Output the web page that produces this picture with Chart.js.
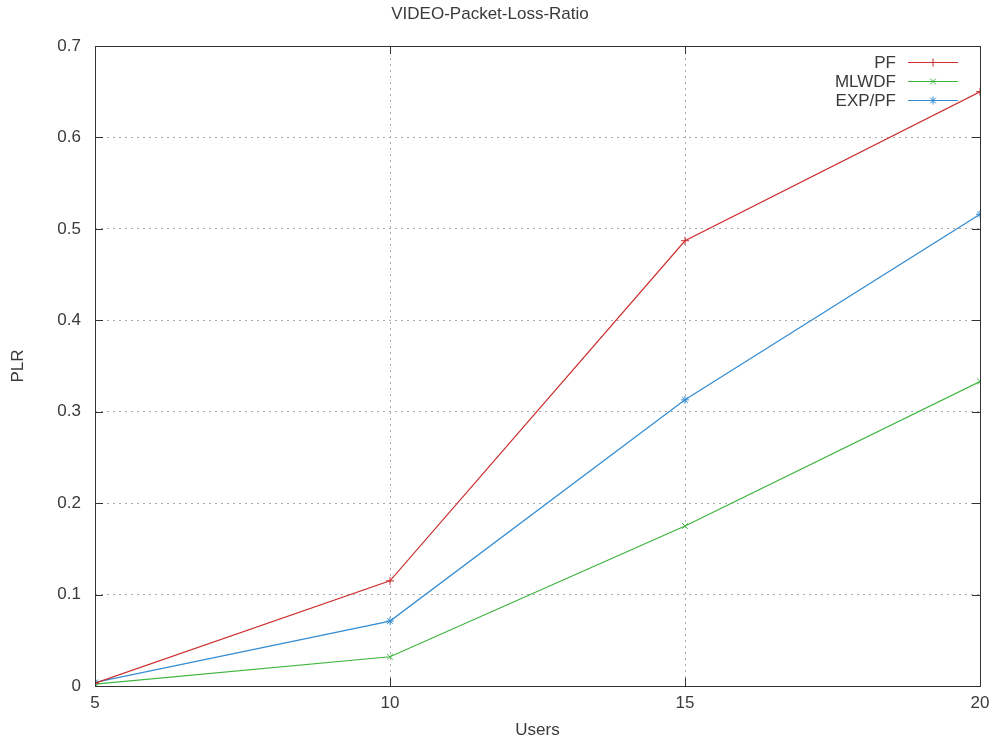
<!DOCTYPE html>
<html>
<head>
<meta charset="utf-8">
<script src="https://cdn.jsdelivr.net/npm/chart.js@4"></script>
<style>
  html, body { margin: 0; padding: 0; background: #fff; }
  canvas { display: block; }
</style>
</head>
<body>
<canvas id="plr" width="993" height="744"></canvas>
<script>
const users = [5, 10, 15, 20];
const pf = [0.003, 0.115, 0.487, 0.650];
const mlwdf = [0.002, 0.032, 0.175, 0.333];
const expPf = [0.004, 0.071, 0.313, 0.516];
const xTicks = [5, 10, 15, 20];
const yTicks = [0, 0.1, 0.2, 0.3, 0.4, 0.5, 0.6, 0.7];

const FONT = '"Liberation Sans", Arial, sans-serif';
const TEXT = '#3a3a3a';

const toPoints = (vals) => users.map((u, i) => ({x: u, y: vals[i]}));

// gnuplot style: tick marks drawn inward on all four borders
const innerTicks = {
  id: 'innerTicks',
  afterDraw(chart) {
    const {ctx, chartArea: a, scales} = chart;
    ctx.save();
    ctx.strokeStyle = '#333';
    ctx.lineWidth = 1;
    ctx.beginPath();
    yTicks.forEach(v => {
      const y = Math.round(scales.y.getPixelForValue(v)) + 0.5;
      ctx.moveTo(a.left, y); ctx.lineTo(a.left + 8, y);
      ctx.moveTo(a.right, y); ctx.lineTo(a.right - 8, y);
    });
    xTicks.forEach(v => {
      const x = Math.round(scales.x.getPixelForValue(v)) + 0.5;
      ctx.moveTo(x, a.bottom); ctx.lineTo(x, a.bottom - 8);
      ctx.moveTo(x, a.top); ctx.lineTo(x, a.top + 8);
    });
    ctx.stroke();
    ctx.restore();
  }
};

// legend in the top right corner of the plot, like gnuplot's key
const insideKey = {
  id: 'insideKey',
  afterDraw(chart) {
    const {ctx, chartArea: a} = chart;
    ctx.save();
    ctx.font = '17px ' + FONT;
    ctx.textAlign = 'right';
    ctx.textBaseline = 'middle';
    chart.data.datasets.forEach((ds, i) => {
      const y = Math.round(a.top + 16 + i * 19.2);
      ctx.fillStyle = TEXT;
      ctx.fillText(ds.label, a.right - 84, y + 1);
      ctx.strokeStyle = ds.borderColor;
      ctx.lineWidth = 1;
      ctx.beginPath();
      ctx.moveTo(a.right - 72, y + 0.5);
      ctx.lineTo(a.right - 22, y + 0.5);
      ctx.stroke();
      Chart.helpers.drawPoint(ctx, {
        pointStyle: ds.pointStyle, radius: ds.pointRadius, borderWidth: 1
      }, a.right - 47, y + 0.5);
    });
    ctx.restore();
  }
};

new Chart(document.getElementById('plr'), {
  type: 'line',
  data: {
    datasets: [{
      label: 'PF',
      data: toPoints(pf),
      borderColor: 'rgb(204, 45, 45)',
      backgroundColor: 'rgb(204, 45, 45)',
      pointStyle: 'cross',
      pointRadius: 4
    }, {
      label: 'MLWDF',
      data: toPoints(mlwdf),
      borderColor: 'rgb(60, 180, 60)',
      backgroundColor: 'rgb(60, 180, 60)',
      pointStyle: 'crossRot',
      pointRadius: 4
    }, {
      label: 'EXP/PF',
      data: toPoints(expPf),
      borderColor: 'rgb(51, 140, 210)',
      backgroundColor: 'rgb(51, 140, 210)',
      pointStyle: 'star',
      pointRadius: 4
    }]
  },
  options: {
    responsive: false,
    animation: false,
    elements: {
      line: {borderWidth: 1.2, tension: 0},
      point: {borderWidth: 1}
    },
    layout: {padding: {left: 0, right: 13, top: 0, bottom: 0}},
    plugins: {
      legend: {display: false},
      tooltip: {enabled: false},
      title: {
        display: true,
        text: 'VIDEO-Packet-Loss-Ratio',
        color: TEXT,
        font: {family: FONT, size: 17, weight: 'normal'},
        padding: {top: 4, bottom: 21.6}
      }
    },
    scales: {
      x: {
        type: 'linear',
        min: 5, max: 20,
        afterBuildTicks: (s) => { s.ticks = xTicks.map(v => ({value: v})); },
        afterFit: (s) => { s.height = 58; s.paddingLeft = 0; s.paddingRight = 0; },
        grid: {color: '#aaa', drawTicks: false, lineWidth: 1},
        border: {display: false, dash: [2, 4]},
        ticks: {color: TEXT, font: {family: FONT, size: 17}, padding: 7},
        title: {
          display: true, text: 'Users', color: TEXT,
          font: {family: FONT, size: 17}, padding: {top: 0, bottom: 3}
        }
      },
      y: {
        min: 0, max: 0.7,
        afterBuildTicks: (s) => { s.ticks = yTicks.map(v => ({value: v})); },
        afterFit: (s) => { s.width = 95; },
        grid: {color: '#aaa', drawTicks: false, lineWidth: 1},
        border: {display: false, dash: [2, 4]},
        ticks: {color: TEXT, font: {family: FONT, size: 17}, padding: 14,
          callback: (v) => String(v)},
        title: {
          display: true, text: 'PLR', color: TEXT,
          font: {family: FONT, size: 17}, padding: {top: 8, bottom: 0}
        }
      }
    }
  },
  plugins: [innerTicks, insideKey, {
    id: 'frame',
    afterDraw(chart) {
      const {ctx, chartArea: a} = chart;
      ctx.save();
      ctx.strokeStyle = '#333';
      ctx.lineWidth = 1;
      ctx.strokeRect(Math.round(a.left) + 0.5, Math.round(a.top) + 0.5,
        Math.round(a.right - a.left), Math.round(a.bottom - a.top));
      ctx.restore();
    }
  }]
});
</script>
</body>
</html>
